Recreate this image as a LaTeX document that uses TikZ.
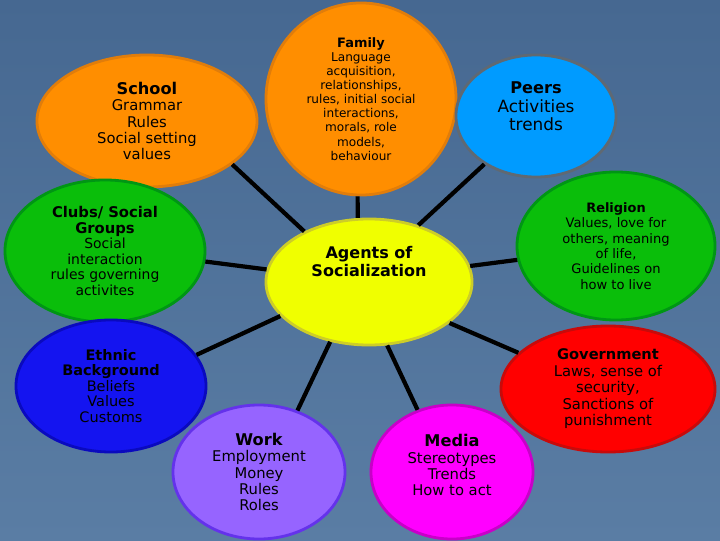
\documentclass[tikz,border=0pt]{standalone}
\usepackage{fontspec}
\setmainfont{DejaVu Sans}
\usetikzlibrary{shapes.geometric}
\definecolor{bgtop}{RGB}{70,104,145}
\definecolor{bgbot}{RGB}{90,125,164}
\definecolor{orng}{RGB}{255,142,0}
\definecolor{orngdk}{RGB}{225,125,10}
\definecolor{sky}{RGB}{0,155,255}
\definecolor{skydk}{RGB}{95,105,115}
\definecolor{grn}{RGB}{10,190,10}
\definecolor{grndk}{RGB}{0,150,20}
\definecolor{ylw}{RGB}{240,255,0}
\definecolor{ylwdk}{RGB}{205,205,40}
\definecolor{blu}{RGB}{20,20,240}
\definecolor{bludk}{RGB}{10,10,190}
\definecolor{rd}{RGB}{255,0,0}
\definecolor{rddk}{RGB}{200,10,10}
\definecolor{vio}{RGB}{150,100,255}
\definecolor{viodk}{RGB}{100,50,235}
\definecolor{mag}{RGB}{255,0,255}
\definecolor{magdk}{RGB}{200,0,200}
\newcommand{\hd}[1]{{\fontsize{11.5}{13}\selectfont\bfseries #1}}
\tikzset{
  every picture/.style={line width=0.6pt},
  bub/.style={draw,ellipse,line width=2pt,inner sep=0pt,align=center,
    font=\fontsize{10.5}{11.7}\selectfont},
  small/.style={font=\fontsize{9.3}{10.9}\selectfont},
  lbl/.style={align=center,inner sep=0pt},
  spoke/.style={line width=3pt,black},
}

\begin{document}
\begin{tikzpicture}[x=0.025cm,y=0.025cm]
\useasboundingbox (0,0) rectangle (720,540);
\shade[top color=bgtop,bottom color=bgbot] (0,0) rectangle (720,540);
% agents around the centre
\node[bub,fill=orng,draw=orngdk,minimum width=4.75cm,minimum height=4.8cm,
  font=\fontsize{8.6}{10}\selectfont] (family) at (361,441)
  {{\fontsize{9.2}{10}\selectfont\bfseries Family}\\Language\\acquisition,\\relationships,\\rules, initial social\\interactions,\\morals, role\\models,\\behaviour};
\node[bub,fill=orng,draw=orngdk,minimum width=5.5cm,minimum height=3.3cm] (school) at (147,419)
  {\hd{School}\\Grammar\\Rules\\Social setting\\values};
\node[bub,fill=sky,draw=skydk,minimum width=4cm,minimum height=3.05cm,
  label={[lbl,yshift=0.24cm,font=\fontsize{12}{13}\selectfont]center:{\hd{Peers}\\Activities\\trends}}] (peers) at (536,424) {};
\node[bub,fill=grn,draw=grndk,minimum width=5cm,minimum height=3.55cm,
  font=\fontsize{9.9}{11}\selectfont] (clubs) at (105,289)
  {{\fontsize{10.5}{11}\selectfont\bfseries Clubs/ Social}\\{\fontsize{10.5}{11}\selectfont\bfseries Groups}\\Social\\interaction\\rules governing\\activites};
\node[bub,small,fill=grn,draw=grndk,minimum width=4.95cm,minimum height=3.7cm] (religion) at (616,294)
  {{\fontsize{9.2}{10}\selectfont\bfseries Religion}\\Values, love for\\others, meaning\\of life,\\Guidelines on\\how to live};
\node[bub,fill=blu,draw=bludk,minimum width=4.75cm,minimum height=3.3cm,
  font=\fontsize{10.3}{11}\selectfont] (ethnic) at (111,154)
  {{\fontsize{10.3}{11}\selectfont\bfseries Ethnic}\\{\fontsize{10.3}{11}\selectfont\bfseries Background}\\Beliefs\\Values\\Customs};
\node[bub,fill=rd,draw=rddk,minimum width=5.35cm,minimum height=3.15cm] (gov) at (608,151)
  {{\fontsize{10.4}{11}\selectfont\bfseries Government}\\Laws, sense of\\security,\\Sanctions of\\punishment};
\node[bub,fill=vio,draw=viodk,minimum width=4.3cm,minimum height=3.35cm] (work) at (259,68)
  {\hd{Work}\\Employment\\Money\\Rules\\Roles};
\node[bub,fill=mag,draw=magdk,minimum width=4.05cm,minimum height=3.35cm,
  label={[lbl,yshift=0.17cm,font=\fontsize{10.5}{11.7}\selectfont]center:{\hd{Media}\\Stereotypes\\Trends\\How to act}}] (media) at (452,68) {};
% centre
\node[bub,fill=ylw,draw=ylwdk,minimum width=5.15cm,minimum height=3.15cm,
  label={[lbl,yshift=0.52cm,font=\fontsize{11.4}{12.8}\selectfont\bfseries]center:{Agents of\\Socialization}}] (agents) at (369,258) {};
% spokes
\foreach \n/\p/\q in {family/100/268, school/142/333, peers/49/223, clubs/173/354,
  religion/9/188, ethnic/201/20, gov/333/158, work/237/58, media/286/119}
  \draw[spoke] (agents.\p) -- (\n.\q);
\end{tikzpicture}
\end{document}
